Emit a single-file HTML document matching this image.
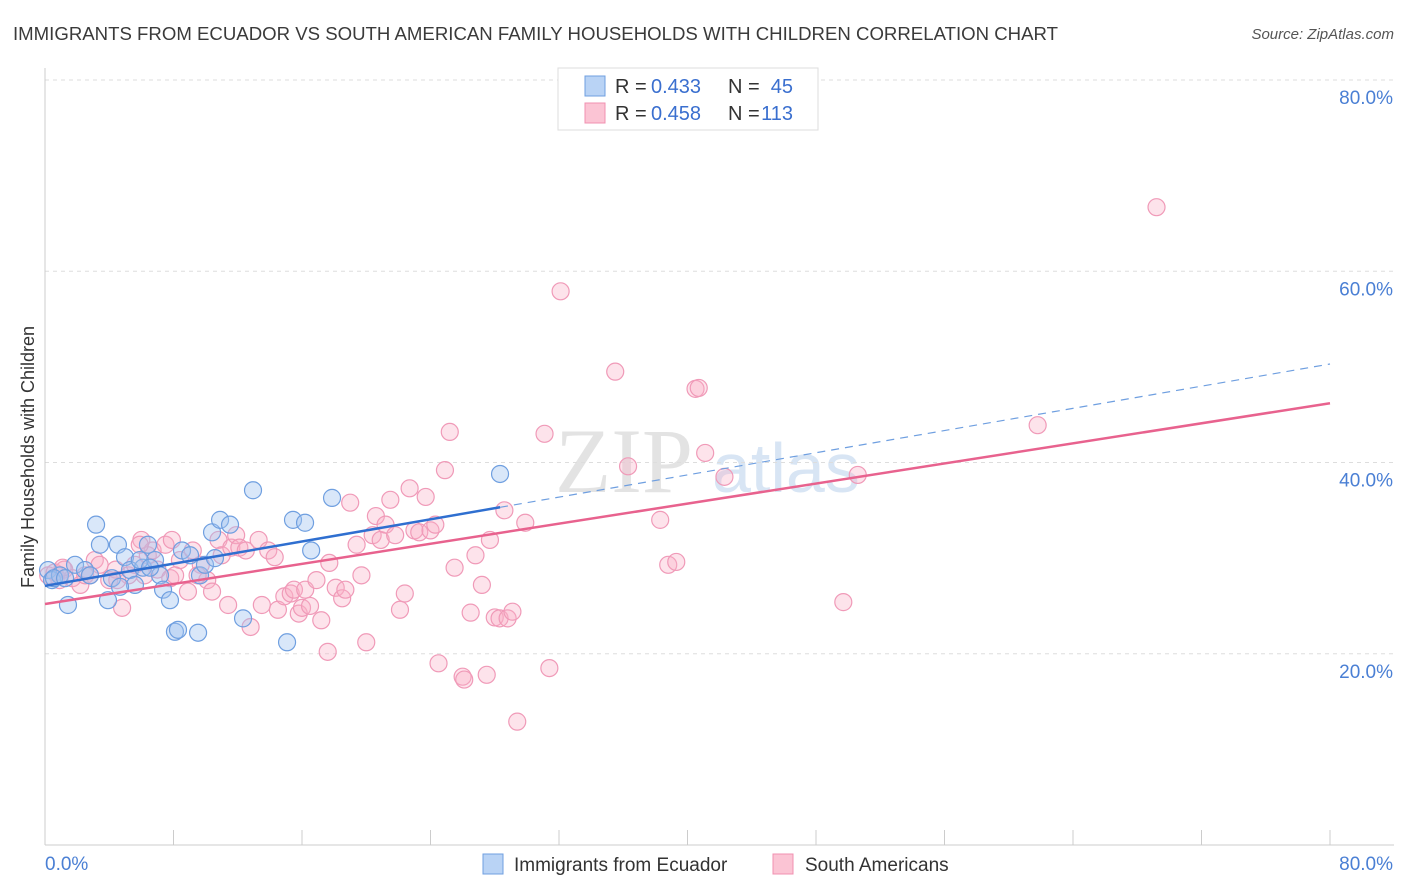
<!DOCTYPE html>
<html><head><meta charset="utf-8"><style>
body{margin:0;background:#fff;font-family:"Liberation Sans",sans-serif}
svg{display:block}
</style></head><body>
<svg id="chart" width="1406" height="892" xmlns="http://www.w3.org/2000/svg" font-family="Liberation Sans, sans-serif">
<text x="13" y="40" font-size="18" fill="#3a3a3a" textLength="1045" lengthAdjust="spacingAndGlyphs">IMMIGRANTS FROM ECUADOR VS SOUTH AMERICAN FAMILY HOUSEHOLDS WITH CHILDREN CORRELATION CHART</text>
<text x="1394" y="39" font-size="15" fill="#555" text-anchor="end" font-style="italic">Source: ZipAtlas.com</text>
<text x="555" y="492" font-size="92" fill="#ddd" font-family="Liberation Serif, serif" opacity="0.8">ZIP</text>
<text x="712" y="492" font-size="70" fill="#cfdff2" opacity="0.8">atlas</text>
<g id="grid"></g>
<g id="axes"></g>
<g id="pts"></g>
<g id="trends"></g>
<text transform="translate(34,457) rotate(-90)" font-size="18" fill="#333" text-anchor="middle">Family Households with Children</text>
<g>
<rect x="558" y="68" width="260" height="62" fill="#fff" stroke="#ddd"/>
<rect x="585" y="76" width="20" height="20" fill="#b9d3f5" stroke="#6f9fe0"/>
<rect x="585" y="103" width="20" height="20" fill="#fbc4d4" stroke="#f090b0"/>
<text x="615" y="93" font-size="20" fill="#333">R =</text>
<text x="651" y="93" font-size="20" fill="#3a6fcf">0.433</text>
<text x="728" y="93" font-size="20" fill="#333">N =</text>
<text x="793" y="93" font-size="20" fill="#3a6fcf" text-anchor="end">45</text>
<text x="615" y="120" font-size="20" fill="#333">R =</text>
<text x="651" y="120" font-size="20" fill="#3a6fcf">0.458</text>
<text x="728" y="120" font-size="20" fill="#333">N =</text>
<text x="793" y="120" font-size="20" fill="#3a6fcf" text-anchor="end">113</text>
</g>
<g>
<rect x="483" y="854" width="20" height="20" fill="#b9d3f5" stroke="#6f9fe0"/>
<text x="514" y="871" font-size="19" fill="#333">Immigrants from Ecuador</text>
<rect x="773" y="854" width="20" height="20" fill="#fbc4d4" stroke="#f090b0"/>
<text x="805" y="871" font-size="19" fill="#333">South Americans</text>
</g>
</svg>
<script>
const blueX=[0.19,0.44,0.93,1.43,1.87,2.49,3.18,3.42,3.92,4.17,4.54,4.98,5.29,5.6,6.1,6.41,6.85,7.16,7.35,7.78,8.09,8.28,8.53,9.03,9.53,9.65,9.96,10.4,10.58,10.9,11.52,12.33,12.95,15.07,15.44,16.19,16.57,17.87,28.33,0.56,1.25,2.8,5.9,4.67,6.54];
const blueY=[28.75,27.7,28.2,25.1,29.3,28.75,33.5,31.4,25.6,27.9,31.4,30.1,28.75,27.2,29.0,31.4,29.8,28.2,26.7,25.6,22.3,22.5,30.8,30.3,22.2,28.2,29.3,32.7,30.0,34.0,33.5,23.7,37.1,21.2,34.0,33.7,30.8,36.3,38.8,27.9,27.9,28.2,29.8,27.0,29.0];
const pinkX=[0.2,0.6,0.9,1.2,1.7,2.2,2.5,3.1,3.4,4.0,4.4,4.8,5.2,5.6,6.0,6.4,6.7,7.0,7.5,7.8,7.9,8.4,8.9,9.2,9.7,10.1,10.4,10.8,11.0,11.4,11.6,11.9,12.1,12.5,12.8,13.3,13.5,13.9,14.3,14.5,14.9,15.3,15.5,15.8,16.0,16.2,16.5,16.9,17.2,17.6,17.7,18.1,18.5,18.7,19.0,19.4,19.7,20.0,20.4,20.6,20.9,21.2,21.5,21.8,22.1,22.4,22.7,23.0,23.3,23.7,24.0,24.3,24.5,24.9,25.2,25.5,26.0,26.1,26.5,26.8,27.2,27.5,27.7,28.0,28.3,28.6,28.8,29.1,29.4,29.9,31.1,31.4,32.1,35.5,36.3,38.3,38.8,39.3,40.5,40.7,41.1,42.3,49.7,50.6,61.8,69.2,1.1,2.8,4.5,6.2,8.1,9.5,5.9];
const pinkY=[28.2,28.5,27.7,28.8,27.9,27.2,28.2,29.8,29.3,27.7,28.8,24.8,28.2,29.3,31.9,30.3,30.8,28.8,31.4,27.9,31.9,29.8,26.5,30.8,29.3,27.7,26.5,31.9,30.3,25.1,31.1,32.4,31.1,30.8,22.8,31.9,25.1,30.8,30.1,24.6,26.0,26.3,26.7,24.2,24.8,26.7,25.0,27.7,23.5,20.2,29.5,26.9,25.8,26.7,35.8,31.4,28.2,21.2,32.4,34.4,31.9,33.5,36.1,32.4,24.6,26.3,37.3,32.9,32.7,36.4,32.9,33.5,19.0,39.2,43.2,29.0,17.6,17.3,24.3,30.3,27.2,17.8,31.9,23.8,23.7,35.0,23.7,24.4,12.9,33.7,43.0,18.5,57.9,49.5,39.6,34.0,29.3,29.6,47.7,47.8,41.0,38.5,25.4,38.7,43.9,66.7,29.0,28.2,27.7,28.2,28.2,28.2,31.4];
const blueTrend=[27.1,0.29];
const pinkTrend=[25.2,0.2625];
const yTicks=[20,40,60,80];
const yTickLabels=["20.0%","40.0%","60.0%","80.0%"];
const xTicks=[0,8,16,24,32,40,48,56,64,72,80];

const NS="http://www.w3.org/2000/svg";
const X=v=>45+v*(1285/80);
const Y=v=>845-v*(765/80);
function mk(t,a,p){const e=document.createElementNS(NS,t);for(const k in a)e.setAttribute(k,a[k]);p.appendChild(e);return e;}
const grid=document.getElementById('grid'),axes=document.getElementById('axes');
yTicks.forEach((t,i)=>{
  const l=mk('line',{x1:45,x2:1394,y1:Y(t),y2:Y(t),stroke:'#ddd','stroke-dasharray':'4,4'},grid);
  
  
  const tx=mk('text',{x:1393,y:Y(t)+24,'font-size':19,fill:'#4a7fd4','text-anchor':'end'},axes);
  tx.textContent=yTickLabels[i];
  
  
});
mk('line',{x1:45,x2:45,y1:68,y2:845,stroke:'#ccc'},axes);
mk('line',{x1:45,x2:1394,y1:845,y2:845,stroke:'#ccc'},axes);
xTicks.forEach(t=>{
  const l=mk('line',{x1:X(t),x2:X(t),y1:830,y2:845,stroke:'#ccc'},axes);
  
  
});
const x0=mk('text',{x:45,y:870,'font-size':19,fill:'#4a7fd4'},axes);x0.textContent='0.0%';


const x1=mk('text',{x:1393,y:870,'font-size':19,fill:'#4a7fd4','text-anchor':'end'},axes);x1.textContent='80.0%';


const pts=document.getElementById('pts');
pinkX.forEach((v,i)=>{
  const c=mk('circle',{cx:X(v),cy:Y(pinkY[i]),r:8.5,fill:'rgba(248,175,198,0.35)',stroke:'#f09ab8','stroke-width':1.2},pts);
  
  
});
blueX.forEach((v,i)=>{
  const c=mk('circle',{cx:X(v),cy:Y(blueY[i]),r:8.5,fill:'rgba(160,196,240,0.4)',stroke:'#6f9fe0','stroke-width':1.2},pts);
  
  
});
const tr=document.getElementById('trends');
const bmax=Math.max(...blueX);
let l=mk('line',{x1:X(0),y1:Y(blueTrend[0]),x2:X(bmax),y2:Y(blueTrend[0]+blueTrend[1]*bmax),stroke:'#2f6fd0','stroke-width':2.5},tr);


l=mk('line',{x1:X(bmax),y1:Y(blueTrend[0]+blueTrend[1]*bmax),x2:X(80),y2:Y(blueTrend[0]+blueTrend[1]*80),stroke:'#6f9fe0','stroke-width':1.2,'stroke-dasharray':'8,6'},tr);


l=mk('line',{x1:X(0),y1:Y(pinkTrend[0]),x2:X(80),y2:Y(pinkTrend[0]+pinkTrend[1]*80),stroke:'#e8628e','stroke-width':2.5},tr);


</script>
</body></html>
